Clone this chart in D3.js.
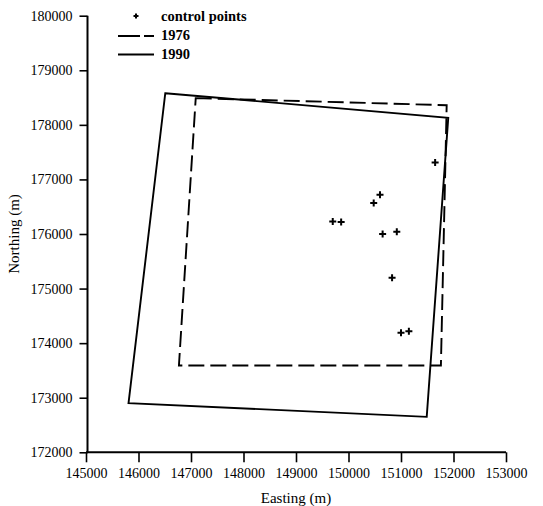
<!DOCTYPE html>
<html>
<head>
<meta charset="utf-8">
<script src="https://cdn.jsdelivr.net/npm/d3@7"></script>
<style>
  body { margin: 0; background: #fff; }
  svg text { font-family: "Liberation Serif", "Times New Roman", serif; fill: #000; }
</style>
</head>
<body>
<svg width="543" height="506"></svg>
<script>
// data (metres)
const xTicks = [145000, 146000, 147000, 148000, 149000, 150000, 151000, 152000, 153000];
const yTicks = [172000, 173000, 174000, 175000, 176000, 177000, 178000, 179000, 180000];

// 1990 outline corners
const e1990 = [146510, 151900, 151490, 145810];
const n1990 = [178580, 178130, 172650, 172900];
// 1976 outline corners
const e1976 = [147090, 151870, 151760, 146770];
const n1976 = [178490, 178360, 173590, 173590];

// control points
const ctrlE = [151650, 150600, 150480, 149700, 149860, 150650, 150920, 150830, 151000, 151150];
const ctrlN = [177310, 176720, 176570, 176230, 176220, 176000, 176040, 175200, 174190, 174220];

const legendText = ["control points", "1976", "1990"];

const svg = d3.select("svg");
const ink = "#000";

const x = d3.scaleLinear().domain([145000, 153000]).range([86, 506]);
const y = d3.scaleLinear().domain([172000, 180000]).range([452.3, 15.7]);

// axes
const xAxis = svg.append("g")
    .attr("transform", `translate(0,${y(172000)})`)
    .call(d3.axisBottom(x).tickValues(xTicks).tickFormat(d3.format("d")).tickSize(10).tickPadding(6));
const yAxis = svg.append("g")
    .attr("transform", `translate(${x(145000) + 1.5},0)`)
    .call(d3.axisLeft(y).tickValues(yTicks).tickFormat(d3.format("d")).tickSize(8).tickPadding(7));

[xAxis, yAxis].forEach(g => {
    g.select(".domain").attr("stroke", ink).attr("stroke-width", 2);
    g.selectAll(".tick line").attr("stroke", ink).attr("stroke-width", 1.6);
    g.selectAll(".tick text").attr("font-size", 14).attr("fill", ink)
        .style("font-family", "'Liberation Serif', serif");
});
xAxis.select(".domain").attr("d", `M${x(145000)},0H${x(153000)}`);
yAxis.select(".domain").attr("d", `M0,${y(180000)}V${y(172000)}`);

// axis titles
svg.append("text")
    .attr("x", (x(145000) + x(153000)) / 2)
    .attr("y", 503)
    .attr("text-anchor", "middle")
    .attr("font-size", 15)
    .text("Easting (m)");

svg.append("text")
    .attr("transform", `translate(19,${(y(180000) + y(172000)) / 2}) rotate(-90)`)
    .attr("text-anchor", "middle")
    .attr("font-size", 15)
    .text("Northing (m)");

// outlines
const line = d3.line().x(d => x(d[0])).y(d => y(d[1]));
const pts1976 = e1976.map((e, i) => [e, n1976[i]]);
const pts1990 = e1990.map((e, i) => [e, n1990[i]]);

svg.append("path")
    .attr("d", line(pts1976) + "Z")
    .attr("fill", "none")
    .attr("stroke", ink)
    .attr("stroke-width", 1.9)
    .attr("stroke-dasharray", "16,6");

svg.append("path")
    .attr("d", line(pts1990) + "Z")
    .attr("fill", "none")
    .attr("stroke", ink)
    .attr("stroke-width", 1.9);

// control points as plus signs
svg.selectAll(".ctrl")
    .data(ctrlE.map((e, i) => [e, ctrlN[i]]))
    .join("path")
    .attr("class", "ctrl")
    .attr("transform", d => `translate(${x(d[0])},${y(d[1])})`)
    .attr("d", "M-3.5,0H3.5M0,-3.5V3.5")
    .attr("stroke", ink)
    .attr("stroke-width", 2);

// legend
const legend = svg.append("g");
legend.append("path")
    .attr("d", "M133.5,16H138.5M136,13.5V18.5")
    .attr("stroke", ink)
    .attr("stroke-width", 2);
legend.append("line")
    .attr("x1", 118).attr("x2", 154).attr("y1", 36).attr("y2", 36)
    .attr("stroke", ink).attr("stroke-width", 1.8)
    .attr("stroke-dasharray", "22,4");
legend.append("line")
    .attr("x1", 118).attr("x2", 154).attr("y1", 54.5).attr("y2", 54.5)
    .attr("stroke", ink).attr("stroke-width", 1.8);

legend.selectAll("text")
    .data(legendText)
    .join("text")
    .attr("x", 161)
    .attr("y", (d, i) => 21 + i * 19)
    .attr("font-size", 14.5)
    .attr("font-weight", "bold")
    .text(d => d);
</script>
</body>
</html>
